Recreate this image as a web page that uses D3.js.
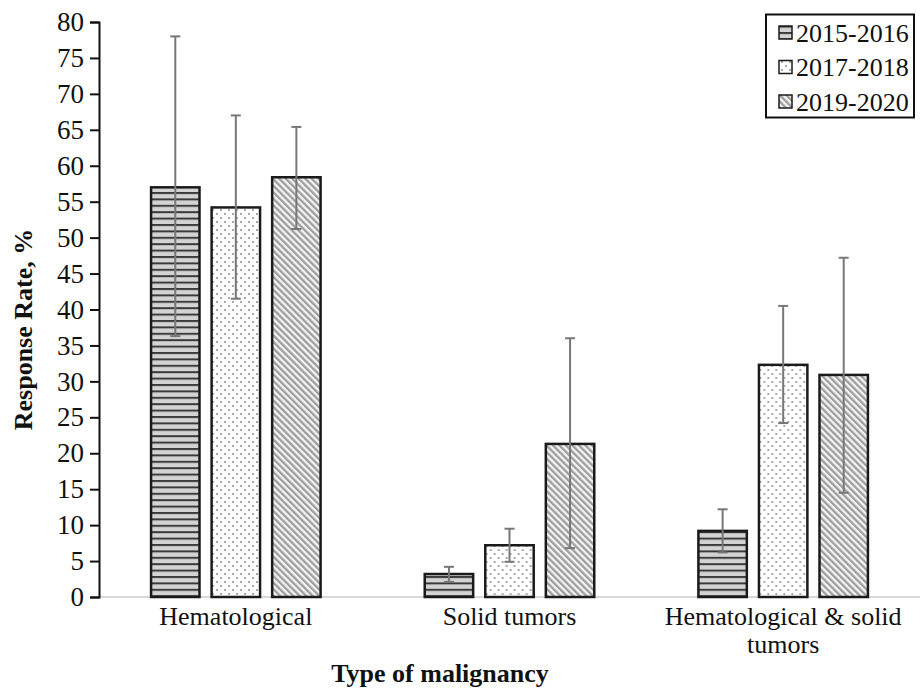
<!DOCTYPE html>
<html>
<head>
<meta charset="utf-8">
<script src="https://cdn.jsdelivr.net/npm/d3@7"></script>
<style>
  html, body { margin: 0; padding: 0; background: #fff; }
  svg { display: block; }
  text { font-family: "Liberation Serif", "Times New Roman", serif; fill: #111; }
</style>
</head>
<body>
<svg id="chart" width="920" height="691"></svg>
<script>
const categories = ["Hematological", "Solid tumors", "Hematological & solid tumors"];
const series = ["2015-2016", "2017-2018", "2019-2020"];
const values = [
  [57.0, 54.2, 58.4],
  [3.2, 7.2, 21.3],
  [9.2, 32.3, 30.9]
];
const errLow = [
  [36.3, 41.5, 51.2],
  [2.1, 4.9, 6.8],
  [6.2, 24.2, 14.5]
];
const errHigh = [
  [78.0, 67.0, 65.4],
  [4.2, 9.5, 36.0],
  [12.2, 40.5, 47.2]
];
const yTicks = d3.range(0, 81, 5);

(function () {
const svg = d3.select("#chart");
const mLeft = 99, mRight = 920, mTop = 22, mBottom = 597;

const defs = svg.append("defs");
// horizontal stripes
const p1 = defs.append("pattern").attr("id", "pat0").attr("patternUnits", "userSpaceOnUse")
  .attr("width", 8).attr("height", 6.4);
p1.append("rect").attr("width", 8).attr("height", 6.4).attr("fill", "#d3d3d3");
p1.append("rect").attr("y", 0).attr("width", 8).attr("height", 2).attr("fill", "#3a3a3a");
// dots
const p2 = defs.append("pattern").attr("id", "pat1").attr("patternUnits", "userSpaceOnUse")
  .attr("width", 8).attr("height", 8);
p2.append("rect").attr("width", 8).attr("height", 8).attr("fill", "#fff");
p2.append("circle").attr("cx", 2).attr("cy", 2).attr("r", 0.9).attr("fill", "#808080");
p2.append("circle").attr("cx", 6).attr("cy", 6).attr("r", 0.9).attr("fill", "#808080");
// diagonal
const p3 = defs.append("pattern").attr("id", "pat2").attr("patternUnits", "userSpaceOnUse")
  .attr("width", 4.6).attr("height", 4.6).attr("patternTransform", "rotate(-45)");
p3.append("rect").attr("width", 4.6).attr("height", 4.6).attr("fill", "#f4f4f4");
p3.append("rect").attr("x", 0).attr("width", 2.3).attr("height", 4.6).attr("fill", "#9d9d9d");

const y = d3.scaleLinear().domain([0, 80]).range([mBottom, mTop]);
const x0 = d3.scaleBand().domain(categories).range([mLeft, mRight]).padding(0);
const x1 = d3.scaleBand().domain(series).range([0, x0.bandwidth()]).paddingInner(0.2).paddingOuter(0.86);

// x axis line (light gray)
svg.append("line").attr("x1", mLeft).attr("x2", mRight).attr("y1", mBottom).attr("y2", mBottom)
  .attr("stroke", "#d8d8d8").attr("stroke-width", 2);

// bars
const groups = svg.append("g").selectAll("g").data(categories).join("g")
  .attr("transform", d => `translate(${x0(d)},0)`);

groups.each(function(cat, ci) {
  const g = d3.select(this);
  series.forEach((s, si) => {
    const v = values[ci][si];
    g.append("rect")
      .attr("x", x1(s)).attr("width", x1.bandwidth())
      .attr("y", y(v)).attr("height", y(0) - y(v))
      .attr("fill", `url(#pat${si})`)
      .attr("stroke", "#1a1a1a").attr("stroke-width", 2.5);
  });
  series.forEach((s, si) => {
    const cx = x1(s) + x1.bandwidth() / 2;
    const lo = errLow[ci][si], hi = errHigh[ci][si];
    g.append("line").attr("x1", cx).attr("x2", cx).attr("y1", y(lo)).attr("y2", y(hi))
      .attr("stroke", "#777").attr("stroke-width", 2);
    [lo, hi].forEach(v => {
      g.append("line").attr("x1", cx - 5).attr("x2", cx + 5).attr("y1", y(v)).attr("y2", y(v))
        .attr("stroke", "#777").attr("stroke-width", 2);
    });
  });
});

// y axis
const yAxis = d3.axisLeft(y).tickValues(yTicks).tickSize(9).tickPadding(6).tickFormat(d3.format("d"));
const ya = svg.append("g").attr("transform", `translate(${mLeft},0)`).call(yAxis)
  .attr("font-family", "'Liberation Serif', serif").attr("font-size", 27);
ya.select(".domain").attr("stroke", "#111").attr("stroke-width", 2);
ya.selectAll(".tick line").attr("stroke", "#111").attr("stroke-width", 2);
ya.selectAll(".tick text").style("font-family", "'Liberation Serif', serif").style("font-size", "27px").attr("fill", "#111");

// category labels
const catLines = {
  "Hematological": ["Hematological"],
  "Solid tumors": ["Solid tumors"],
  "Hematological & solid tumors": ["Hematological & solid", "tumors"]
};
categories.forEach(c => {
  const cx = x0(c) + x0.bandwidth() / 2;
  catLines[c].forEach((ln, i) => {
    svg.append("text").attr("x", cx).attr("y", 625 + i * 28).attr("text-anchor", "middle")
      .style("font-size", "26px").text(ln);
  });
});

// axis titles
svg.append("text").attr("x", 440).attr("y", 682).attr("text-anchor", "middle")
  .style("font-size", "26px").style("font-weight", "bold").text("Type of malignancy");
svg.append("text").attr("transform", `translate(32,${(mTop + mBottom) / 2 + 20}) rotate(-90)`)
  .attr("text-anchor", "middle").style("font-size", "26px").style("font-weight", "bold")
  .text("Response Rate, %");

// legend
const lg = svg.append("g");
lg.append("rect").attr("x", 766).attr("y", 14.5).attr("width", 148).attr("height", 103)
  .attr("fill", "#fff").attr("stroke", "#111").attr("stroke-width", 2);
series.forEach((s, i) => {
  const cy = 32.5 + i * 34.5;
  lg.append("rect").attr("x", 779).attr("y", cy - 6.5).attr("width", 13).attr("height", 13)
    .attr("fill", `url(#pat${i})`).attr("stroke", "#1a1a1a").attr("stroke-width", 1.5);
  lg.append("text").attr("x", 796).attr("y", cy + 9).style("font-size", "26px").text(s);
});
})();
</script>
</body>
</html>
